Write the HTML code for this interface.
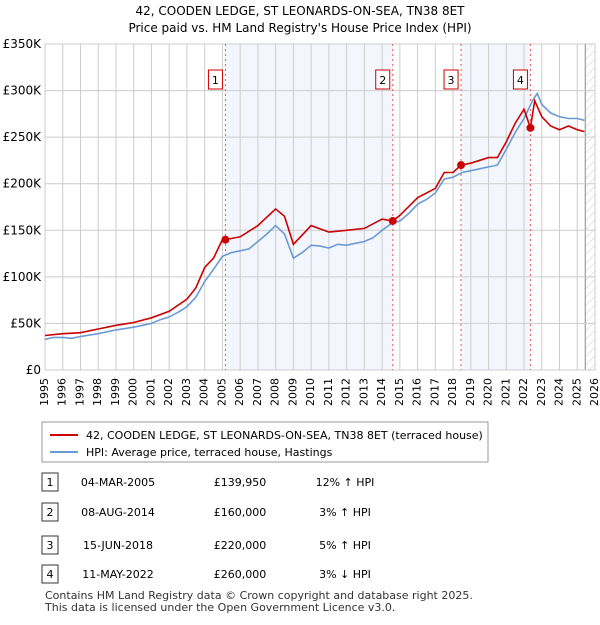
<!DOCTYPE html>
<html><head><meta charset="utf-8"><style>
body{margin:0;background:#fff;font-family:"Liberation Sans","DejaVu Sans",sans-serif;}
svg text{font-family:"DejaVu Sans","Liberation Sans",sans-serif;}
</style></head><body>
<svg id="c" width="600" height="620" xmlns="http://www.w3.org/2000/svg">
<defs><pattern id="hatch" width="6" height="6" patternUnits="userSpaceOnUse" patternTransform="rotate(45)"><line x1="0" y1="0" x2="0" y2="6" stroke="#ccc" stroke-width="1"/></pattern></defs>
<text x="300" y="15" text-anchor="middle" font-size="12">42, COODEN LEDGE, ST LEONARDS-ON-SEA, TN38 8ET</text>
<text x="300" y="32" text-anchor="middle" font-size="12">Price paid vs. HM Land Registry's House Price Index (HPI)</text>
<g id="plot"></g>
<rect x="42" y="422" width="446" height="40" fill="#fff" stroke="#999"/>
<line x1="50" y1="435" x2="78" y2="435" stroke="#cc0000" stroke-width="2"/>
<text x="86" y="439" font-size="11">42, COODEN LEDGE, ST LEONARDS-ON-SEA, TN38 8ET (terraced house)</text>
<line x1="50" y1="452" x2="78" y2="452" stroke="#6a9ad4" stroke-width="2"/>
<text x="86" y="456" font-size="11">HPI: Average price, terraced house, Hastings</text>
<g id="table" font-size="11"></g>
<text x="45" y="599" font-size="11" fill="#333">Contains HM Land Registry data © Crown copyright and database right 2025.</text>
<text x="45" y="611" font-size="11" fill="#333">This data is licensed under the Open Government Licence v3.0.</text>
</svg>
<script>
const yTicks=[0,50,100,150,200,250,300,350];
const yTickLabels=["£0","£50K","£100K","£150K","£200K","£250K","£300K","£350K"];
const years=[1995,1996,1997,1998,1999,2000,2001,2002,2003,2004,2005,2006,2007,2008,2009,2010,2011,2012,2013,2014,2015,2016,2017,2018,2019,2020,2021,2022,2023,2024,2025,2026];
const hpiX=[1995,1995.5,1996,1996.5,1997,1998,1999,2000,2000.5,2001,2001.5,2002,2002.5,2003,2003.5,2004,2004.5,2005,2005.5,2006,2006.5,2007,2007.5,2008,2008.5,2009,2009.5,2010,2010.5,2011,2011.5,2012,2012.5,2013,2013.5,2014,2014.5,2015,2015.5,2016,2016.5,2017,2017.5,2018,2018.5,2019,2019.5,2020,2020.5,2021,2021.5,2022,2022.5,2022.75,2023,2023.5,2024,2024.5,2025,2025.4];
const hpiY=[33,35,35,34,36,39,43,46,48,50,54,57,62,68,78,95,108,122,126,128,130,138,146,155,146,120,126,134,133,131,135,134,136,138,142,150,157,160,168,178,183,190,205,207,212,214,216,218,220,237,255,270,290,297,285,276,272,270,270,268];
const priceX=[1995,1996,1997,1998,1999,2000,2001,2002,2003,2003.5,2004,2004.5,2005,2005.17,2006,2007,2008,2008.5,2009,2009.5,2010,2011,2012,2013,2014,2014.6,2015,2016,2017,2017.5,2018,2018.45,2019,2020,2020.5,2021,2021.5,2022,2022.36,2022.6,2023,2023.5,2024,2024.5,2025,2025.4];
const priceY=[37,39,40,44,48,51,56,63,76,88,110,120,140,140,143,155,173,165,135,145,155,148,150,152,162,160,166,185,195,212,212,220,222,228,228,245,265,280,260,289,272,262,258,262,258,256];
const saleX=[2005.17,2014.6,2018.45,2022.36];
const saleY=[139.95,160,220,260];
const saleLabels=["1","2","3","4"];
const saleDates=["04-MAR-2005","08-AUG-2014","15-JUN-2018","11-MAY-2022"];
const salePrices=["£139,950","£160,000","£220,000","£260,000"];
const saleHpi=["12% ↑ HPI","3% ↑ HPI","5% ↑ HPI","3% ↓ HPI"];

const X0=45,X1=595,Y0=370,Y1=44;
const xs=v=>X0+(v-1995)/(2026-1995)*(X1-X0);
const ys=v=>Y0-v/350*(Y0-Y1);
const NS="http://www.w3.org/2000/svg";
const g=document.getElementById('plot');
function mk(tag,attrs,parent){const e=document.createElementNS(NS,tag);for(const k in attrs)e.setAttribute(k,attrs[k]);(parent||g).appendChild(e);return e;}
// shaded bands
for(let i=0;i<saleX.length;i+=2){
 const a=saleX[i],b=i+1<saleX.length?saleX[i+1]:2025.5;
 const r=mk('rect',{x:xs(a),y:Y1,width:xs(b)-xs(a),height:Y0-Y1,fill:'#eef3fc',opacity:0.7});
 
 
}
const hr=mk('rect',{x:xs(2025.45),y:Y1,width:X1-xs(2025.45),height:Y0-Y1,fill:'url(#hatch)'});


mk('line',{x1:xs(2025.45),y1:Y1,x2:xs(2025.45),y2:Y0,stroke:'#888'});
// grid
years.forEach(y=>{const l=mk('line',{x1:xs(y),y1:Y1,x2:xs(y),y2:Y0,stroke:'#ccc'});
 
 
 const t=mk('text',{x:xs(y),y:Y0+8,'font-size':11,'text-anchor':'end',transform:`rotate(-90 ${xs(y)} ${Y0+8})`,'dominant-baseline':'middle'});
 
 
 t.textContent=y;});
yTicks.forEach((v,i)=>{const l=mk('line',{x1:X0,y1:ys(v),x2:X1,y2:ys(v),stroke:'#ccc'});
 
 
 const t=mk('text',{x:X0-4,y:ys(v)+4,'font-size':12,'text-anchor':'end'});
 
 
 t.textContent=yTickLabels[i];});
mk('rect',{x:X0,y:Y1,width:X1-X0,height:Y0-Y1,fill:'none',stroke:'#ccc'});
// sale vlines and labels
saleX.forEach((s,i)=>{const l=mk('line',{x1:xs(s),y1:Y1,x2:xs(s),y2:Y0,stroke:'#e55','stroke-dasharray':'2,3'});
 
 
 const bx=mk('rect',{x:xs(s)-17,y:70,width:14,height:19,fill:'#fff',stroke:'#c00'});
 
 
 const t=mk('text',{x:xs(s)-10,y:84,'font-size':11,'text-anchor':'middle'});
 
 
 t.textContent=saleLabels[i];});
const pts=(X,Y)=>X.map((x,i)=>xs(x).toFixed(1)+','+ys(Y[i]).toFixed(1)).join(' ');
const hl=mk('polyline',{points:pts(hpiX,hpiY),fill:'none',stroke:'#6a9ad4','stroke-width':1.6});


const pl=mk('polyline',{points:pts(priceX,priceY),fill:'none',stroke:'#cc0000','stroke-width':1.6});


saleX.forEach((s,i)=>{const c=mk('circle',{cx:xs(s),cy:ys(saleY[i]),r:4,fill:'#cc0000'});
 
 });
// table
const tb=document.getElementById('table');
const rowsY=[482,512,545,574];
saleX.forEach((s,i)=>{const y=rowsY[i];
 const b=mk('rect',{x:42,y:y-9,width:16,height:18,fill:'#fff',stroke:'#333'},tb);
 
 
 const cells=[[50,saleLabels[i],'middle'],[118,saleDates[i],'middle'],[240,salePrices[i],'middle'],[345,saleHpi[i],'middle']];
 cells.forEach(c=>{const t=mk('text',{x:c[0],y:y+4,'text-anchor':c[2]},tb);
  
  
  t.textContent=c[1];});
});
</script>
</body></html>
